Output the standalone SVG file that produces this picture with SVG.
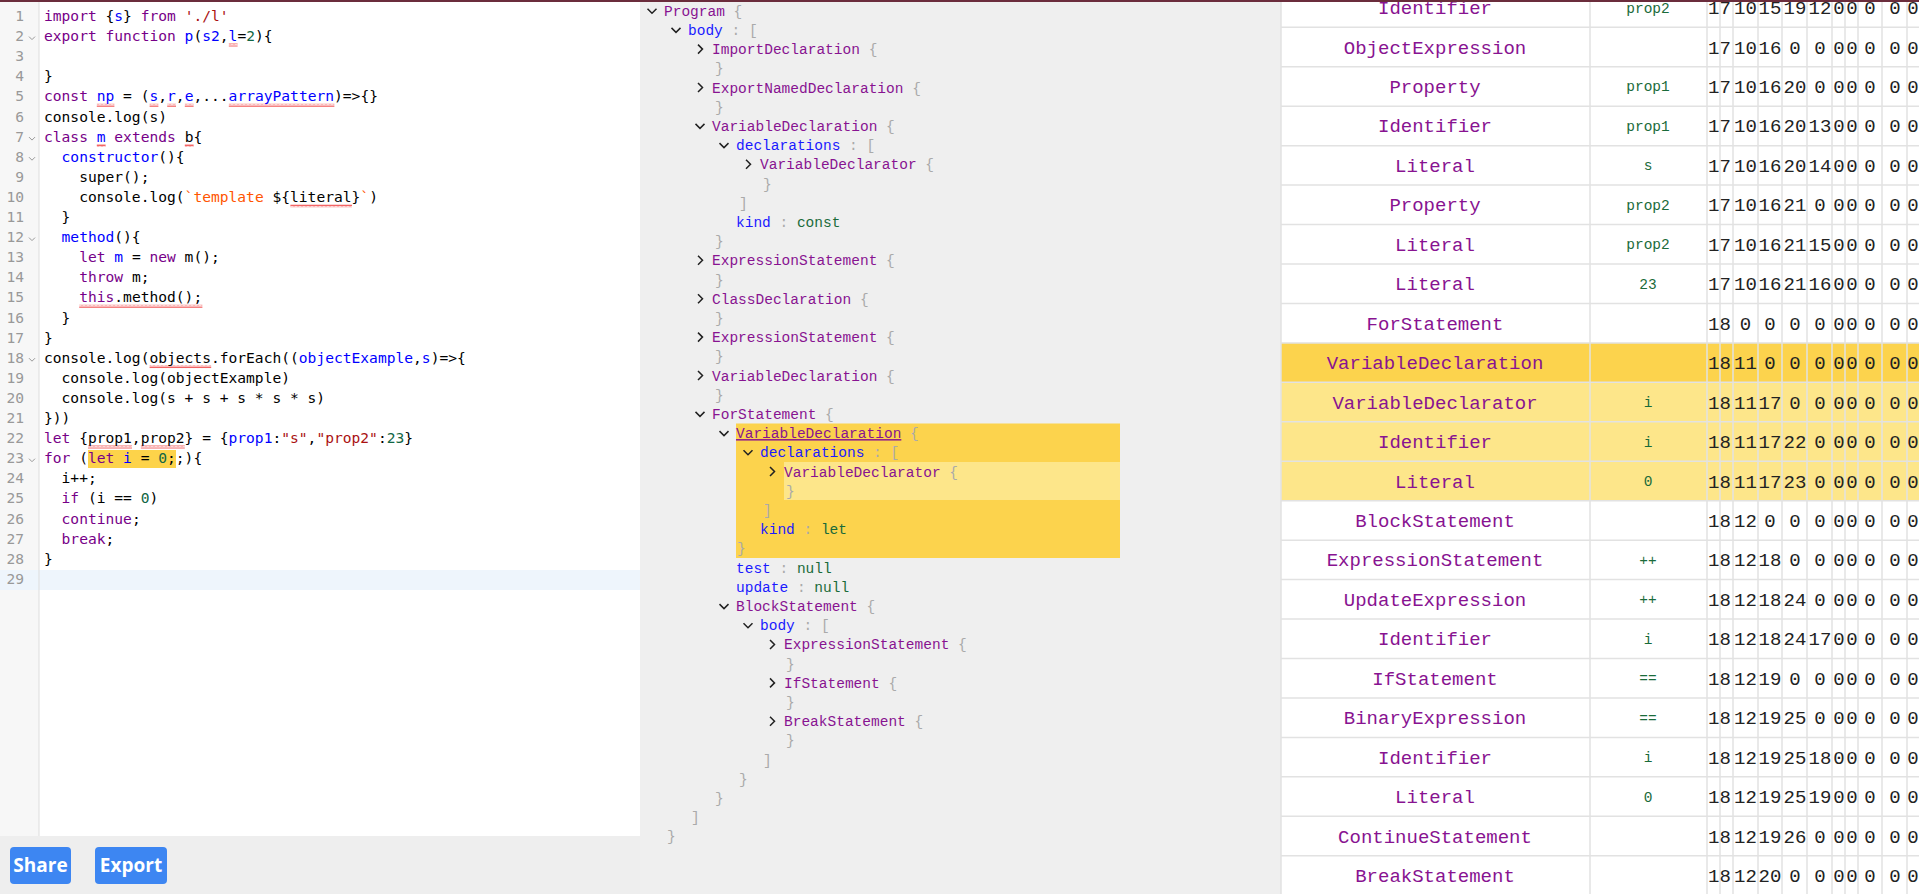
<svg xmlns="http://www.w3.org/2000/svg" width="1919" height="894" viewBox="0 0 1919 894">
<style>
.code{font-family:"DejaVu Sans Mono",monospace;font-size:14.6px;fill:#000;white-space:pre}
.ln{font-family:"DejaVu Sans Mono",monospace;font-size:14.6px;fill:#999;text-anchor:end}
.k{fill:#770088}.d{fill:#0000ff}.s{fill:#aa1111}.n{fill:#116644}.s2{fill:#ff5500}
.tr{font-family:"Liberation Mono",monospace;font-size:14.5px;white-space:pre}
.ty{fill:#881391}.key{fill:#1a1aff}.val{fill:#1a6b3a}.br{fill:#aaaaaa}
.c1{font-family:"Liberation Mono",monospace;font-size:19px;fill:#881391;text-anchor:middle}
.c2{font-family:"Liberation Mono",monospace;font-size:14.5px;fill:#1a6b3a;text-anchor:middle}
.num{font-family:"Liberation Mono",monospace;font-size:19px;fill:#222;text-anchor:middle}
.btn{fill:#3d86f2}
.bt{font-family:"Open Sans","Noto Sans",sans-serif;font-size:19px;font-weight:bold;fill:#fff;text-anchor:middle}
</style>
<defs>
<pattern id="wave" width="4" height="3" patternUnits="userSpaceOnUse"><path d="M0 2.5 L1 0.5 L2 2.5 L3 0.5 L4 2.5" fill="none" stroke="#ee2222" stroke-width="0.7"/></pattern>
</defs>
<g id="editor">
<rect x="0" y="0" width="640" height="836" fill="#ffffff"/>
<rect x="0" y="0" width="39" height="836" fill="#f7f7f7"/>
<rect x="0" y="570" width="640" height="20" fill="#eef5fc"/>
<line x1="39" y1="0" x2="39" y2="836" stroke="#dddddd" stroke-width="1"/>
<rect x="88" y="450" width="88" height="18" fill="#fdd34a"/>
<g fill="url(#wave)">
<rect x="228.8" y="43.5" width="8.8" height="3"/>
<rect x="96.8" y="103.8" width="17.6" height="3"/><rect x="149.6" y="103.8" width="8.8" height="3"/><rect x="167.2" y="103.8" width="8.8" height="3"/><rect x="184.8" y="103.8" width="8.8" height="3"/><rect x="228.8" y="103.8" width="105.6" height="3"/>
<rect x="96.8" y="144" width="8.8" height="3"/><rect x="184.8" y="144" width="8.8" height="3"/>
<rect x="290.4" y="204.4" width="61.6" height="3"/>
<rect x="79.2" y="304.8" width="123.2" height="3"/>
<rect x="149.6" y="365.1" width="61.6" height="3"/>
<rect x="88" y="445.5" width="44" height="3"/><rect x="140.8" y="445.5" width="44" height="3"/>
</g>
<path d="M29 36.6 L32 39.6 L35 36.6 M29 137.1 L32 140.1 L35 137.1 M29 157.2 L32 160.2 L35 157.2 M29 237.6 L32 240.6 L35 237.6 M29 358.2 L32 361.2 L35 358.2 M29 458.7 L32 461.7 L35 458.7" fill="none" stroke="#999" stroke-width="1"/>
<g>
<text class="ln" x="24" y="21">1</text><text class="ln" x="24" y="41.1">2</text><text class="ln" x="24" y="61.2">3</text><text class="ln" x="24" y="81.3">4</text><text class="ln" x="24" y="101.4">5</text><text class="ln" x="24" y="121.5">6</text><text class="ln" x="24" y="141.6">7</text><text class="ln" x="24" y="161.7">8</text><text class="ln" x="24" y="181.8">9</text><text class="ln" x="24" y="201.9">10</text><text class="ln" x="24" y="222">11</text><text class="ln" x="24" y="242.1">12</text><text class="ln" x="24" y="262.2">13</text><text class="ln" x="24" y="282.3">14</text><text class="ln" x="24" y="302.4">15</text><text class="ln" x="24" y="322.5">16</text><text class="ln" x="24" y="342.6">17</text><text class="ln" x="24" y="362.7">18</text><text class="ln" x="24" y="382.8">19</text><text class="ln" x="24" y="402.9">20</text><text class="ln" x="24" y="423">21</text><text class="ln" x="24" y="443.1">22</text><text class="ln" x="24" y="463.2">23</text><text class="ln" x="24" y="483.3">24</text><text class="ln" x="24" y="503.4">25</text><text class="ln" x="24" y="523.5">26</text><text class="ln" x="24" y="543.6">27</text><text class="ln" x="24" y="563.7">28</text><text class="ln" x="24" y="583.8">29</text>
</g>
<g>
<text class="code" x="44" y="21"><tspan class="k">import</tspan> {<tspan class="d">s</tspan>} <tspan class="k">from</tspan> <tspan class="s">'./l'</tspan></text>
<text class="code" x="44" y="41.1"><tspan class="k">export</tspan> <tspan class="k">function</tspan> <tspan class="d">p</tspan>(<tspan class="d">s2</tspan>,<tspan class="d">l</tspan>=<tspan class="n">2</tspan>){</text>
<text class="code" x="44" y="81.3">}</text>
<text class="code" x="44" y="101.4"><tspan class="k">const</tspan> <tspan class="d">np</tspan> = (<tspan class="d">s</tspan>,<tspan class="d">r</tspan>,<tspan class="d">e</tspan>,...<tspan class="d">arrayPattern</tspan>)=&gt;{}</text>
<text class="code" x="44" y="121.5">console.log(s)</text>
<text class="code" x="44" y="141.6"><tspan class="k">class</tspan> <tspan class="d">m</tspan> <tspan class="k">extends</tspan> b{</text>
<text class="code" x="44" y="161.7">  <tspan class="d">constructor</tspan>(){</text>
<text class="code" x="44" y="181.8">    super();</text>
<text class="code" x="44" y="201.9">    console.log(<tspan class="s2">`template </tspan>${literal}<tspan class="s2">`</tspan>)</text>
<text class="code" x="44" y="222">  }</text>
<text class="code" x="44" y="242.1">  <tspan class="d">method</tspan>(){</text>
<text class="code" x="44" y="262.2">    <tspan class="k">let</tspan> <tspan class="d">m</tspan> = <tspan class="k">new</tspan> m();</text>
<text class="code" x="44" y="282.3">    <tspan class="k">throw</tspan> m;</text>
<text class="code" x="44" y="302.4">    <tspan class="k">this</tspan>.method();</text>
<text class="code" x="44" y="322.5">  }</text>
<text class="code" x="44" y="342.6">}</text>
<text class="code" x="44" y="362.7">console.log(objects.forEach((<tspan class="d">objectExample</tspan>,<tspan class="d">s</tspan>)=&gt;{</text>
<text class="code" x="44" y="382.8">  console.log(objectExample)</text>
<text class="code" x="44" y="402.9">  console.log(s + s + s * s * s)</text>
<text class="code" x="44" y="423">}))</text>
<text class="code" x="44" y="443.1"><tspan class="k">let</tspan> {prop1,prop2} = {<tspan class="d">prop1</tspan>:<tspan class="s">"s"</tspan>,<tspan class="s">"prop2"</tspan>:<tspan class="n">23</tspan>}</text>
<text class="code" x="44" y="463.2"><tspan class="k">for</tspan> (<tspan class="k">let</tspan> <tspan class="d">i</tspan> = <tspan class="n">0</tspan>;;){</text>
<text class="code" x="44" y="483.3">  i++;</text>
<text class="code" x="44" y="503.4">  <tspan class="k">if</tspan> (i == <tspan class="n">0</tspan>)</text>
<text class="code" x="44" y="523.5">  <tspan class="k">continue</tspan>;</text>
<text class="code" x="44" y="543.6">  <tspan class="k">break</tspan>;</text>
<text class="code" x="44" y="563.7">}</text>
</g>
<rect x="0" y="836" width="640" height="58" fill="#eeeeee"/>
</g>
<g id="share-button"><rect class="btn" x="10" y="847" width="61" height="37" rx="4"/><text class="bt" x="40.5" y="872">Share</text></g>
<g id="export-button"><rect class="btn" x="95" y="847" width="72" height="37" rx="4"/><text class="bt" x="131" y="872">Export</text></g>
<g id="ast-tree">
<rect x="640" y="0" width="641" height="894" fill="#efefef"/>
<rect x="736" y="423.5" width="384" height="134.5" fill="#fcd34d"/>
<rect x="784" y="462" width="336" height="38" fill="#fde68a"/>
<path d="M647.5 8.7 L652 13.2 L656.5 8.7 M671.5 27.9 L676 32.4 L680.5 27.9 M698 44.6 L702.5 49.1 L698 53.6 M698 83 L702.5 87.5 L698 92 M695.5 123.9 L700 128.4 L704.5 123.9 M719.5 143.1 L724 147.6 L728.5 143.1 M746 159.8 L750.5 164.3 L746 168.8 M698 255.8 L702.5 260.3 L698 264.8 M698 294.2 L702.5 298.7 L698 303.2 M698 332.6 L702.5 337.1 L698 341.6 M698 371 L702.5 375.5 L698 380 M695.5 411.9 L700 416.4 L704.5 411.9 M719.5 431.1 L724 435.6 L728.5 431.1 M743.5 450.3 L748 454.8 L752.5 450.3 M770 467 L774.5 471.5 L770 476 M719.5 604.1 L724 608.6 L728.5 604.1 M743.5 623.3 L748 627.8 L752.5 623.3 M770 640 L774.5 644.5 L770 649 M770 678.4 L774.5 682.9 L770 687.4 M770 716.8 L774.5 721.3 L770 725.8" fill="none" stroke="#222" stroke-width="1.5"/>
<text class="tr" x="664" y="15.7"><tspan class="ty">Program</tspan><tspan class="br"> {</tspan></text>
<text class="tr" x="688" y="34.9"><tspan class="key">body</tspan><tspan class="br"> : [</tspan></text>
<text class="tr" x="712" y="54.1"><tspan class="ty">ImportDeclaration</tspan><tspan class="br"> {</tspan></text>
<text class="tr br" x="715" y="73.3">}</text>
<text class="tr" x="712" y="92.5"><tspan class="ty">ExportNamedDeclaration</tspan><tspan class="br"> {</tspan></text>
<text class="tr br" x="715" y="111.7">}</text>
<text class="tr" x="712" y="130.9"><tspan class="ty">VariableDeclaration</tspan><tspan class="br"> {</tspan></text>
<text class="tr" x="736" y="150.1"><tspan class="key">declarations</tspan><tspan class="br"> : [</tspan></text>
<text class="tr" x="760" y="169.3"><tspan class="ty">VariableDeclarator</tspan><tspan class="br"> {</tspan></text>
<text class="tr br" x="763" y="188.5">}</text>
<text class="tr br" x="739" y="207.7">]</text>
<text class="tr" x="736" y="226.9"><tspan class="key">kind</tspan><tspan class="br"> : </tspan><tspan class="val">const</tspan></text>
<text class="tr br" x="715" y="246.1">}</text>
<text class="tr" x="712" y="265.3"><tspan class="ty">ExpressionStatement</tspan><tspan class="br"> {</tspan></text>
<text class="tr br" x="715" y="284.5">}</text>
<text class="tr" x="712" y="303.7"><tspan class="ty">ClassDeclaration</tspan><tspan class="br"> {</tspan></text>
<text class="tr br" x="715" y="322.9">}</text>
<text class="tr" x="712" y="342.1"><tspan class="ty">ExpressionStatement</tspan><tspan class="br"> {</tspan></text>
<text class="tr br" x="715" y="361.3">}</text>
<text class="tr" x="712" y="380.5"><tspan class="ty">VariableDeclaration</tspan><tspan class="br"> {</tspan></text>
<text class="tr br" x="715" y="399.7">}</text>
<text class="tr" x="712" y="418.9"><tspan class="ty">ForStatement</tspan><tspan class="br"> {</tspan></text>
<text class="tr" x="736" y="438.1"><tspan class="ty" text-decoration="underline">VariableDeclaration</tspan><tspan class="br"> {</tspan></text>
<text class="tr" x="760" y="457.3"><tspan class="key">declarations</tspan><tspan class="br"> : [</tspan></text>
<text class="tr" x="784" y="476.5"><tspan class="ty">VariableDeclarator</tspan><tspan class="br"> {</tspan></text>
<text class="tr br" x="786" y="495.7">}</text>
<text class="tr br" x="763" y="514.9">]</text>
<text class="tr" x="760" y="534.1"><tspan class="key">kind</tspan><tspan class="br"> : </tspan><tspan class="val">let</tspan></text>
<text class="tr br" x="737" y="553.3">}</text>
<text class="tr" x="736" y="572.5"><tspan class="key">test</tspan><tspan class="br"> : </tspan><tspan class="val">null</tspan></text>
<text class="tr" x="736" y="591.7"><tspan class="key">update</tspan><tspan class="br"> : </tspan><tspan class="val">null</tspan></text>
<text class="tr" x="736" y="610.9"><tspan class="ty">BlockStatement</tspan><tspan class="br"> {</tspan></text>
<text class="tr" x="760" y="630.1"><tspan class="key">body</tspan><tspan class="br"> : [</tspan></text>
<text class="tr" x="784" y="649.3"><tspan class="ty">ExpressionStatement</tspan><tspan class="br"> {</tspan></text>
<text class="tr br" x="786" y="668.5">}</text>
<text class="tr" x="784" y="687.7"><tspan class="ty">IfStatement</tspan><tspan class="br"> {</tspan></text>
<text class="tr br" x="786" y="706.9">}</text>
<text class="tr" x="784" y="726.1"><tspan class="ty">BreakStatement</tspan><tspan class="br"> {</tspan></text>
<text class="tr br" x="786" y="745.3">}</text>
<text class="tr br" x="763" y="764.5">]</text>
<text class="tr br" x="739" y="783.7">}</text>
<text class="tr br" x="715" y="802.9">}</text>
<text class="tr br" x="691" y="822.1">]</text>
<text class="tr br" x="667" y="841.3">}</text>
</g>
<g id="table">
<rect x="1281" y="0" width="638" height="894" fill="#ffffff"/>
<rect x="1281" y="342.9" width="638" height="39.45" fill="#fcd34d"/>
<rect x="1281" y="382.35" width="638" height="118.35" fill="#fde68a"/>
<g stroke="#e2e2e2" stroke-width="1.5">
<line x1="1281" y1="0" x2="1281" y2="894"/><line x1="1590" y1="0" x2="1590" y2="894"/><line x1="1707" y1="0" x2="1707" y2="894"/><line x1="1720" y1="0" x2="1720" y2="894"/><line x1="1733" y1="0" x2="1733" y2="894"/><line x1="1758" y1="0" x2="1758" y2="894"/><line x1="1782" y1="0" x2="1782" y2="894"/><line x1="1807" y1="0" x2="1807" y2="894"/><line x1="1832" y1="0" x2="1832" y2="894"/><line x1="1845" y1="0" x2="1845" y2="894"/><line x1="1858" y1="0" x2="1858" y2="894"/><line x1="1882" y1="0" x2="1882" y2="894"/><line x1="1907" y1="0" x2="1907" y2="894"/>
<line x1="1281" y1="27.3" x2="1919" y2="27.3"/><line x1="1281" y1="66.75" x2="1919" y2="66.75"/><line x1="1281" y1="106.2" x2="1919" y2="106.2"/><line x1="1281" y1="145.65" x2="1919" y2="145.65"/><line x1="1281" y1="185.1" x2="1919" y2="185.1"/><line x1="1281" y1="224.55" x2="1919" y2="224.55"/><line x1="1281" y1="264" x2="1919" y2="264"/><line x1="1281" y1="303.45" x2="1919" y2="303.45"/><line x1="1281" y1="342.9" x2="1919" y2="342.9"/><line x1="1281" y1="382.35" x2="1919" y2="382.35"/><line x1="1281" y1="421.8" x2="1919" y2="421.8"/><line x1="1281" y1="461.25" x2="1919" y2="461.25"/><line x1="1281" y1="500.7" x2="1919" y2="500.7"/><line x1="1281" y1="540.15" x2="1919" y2="540.15"/><line x1="1281" y1="579.6" x2="1919" y2="579.6"/><line x1="1281" y1="619.05" x2="1919" y2="619.05"/><line x1="1281" y1="658.5" x2="1919" y2="658.5"/><line x1="1281" y1="697.95" x2="1919" y2="697.95"/><line x1="1281" y1="737.4" x2="1919" y2="737.4"/><line x1="1281" y1="776.85" x2="1919" y2="776.85"/><line x1="1281" y1="816.3" x2="1919" y2="816.3"/><line x1="1281" y1="855.75" x2="1919" y2="855.75"/>
</g>
<g id="row-0"><text class="c1" x="1435" y="14.2">Identifier</text><text class="c2" x="1648" y="12.7">prop2</text><text class="num" x="1713.7 1725.1 1739.8 1751.2 1764.3 1775.7 1789.3 1800.7 1814.3 1825.7 1839 1852 1870 1895 1913" y="14.2">171015191200000</text></g>
<g id="row-1"><text class="c1" x="1435" y="53.5">ObjectExpression</text><text class="num" x="1713.7 1725.1 1739.8 1751.2 1764.3 1775.7 1795 1820 1839 1852 1870 1895 1913" y="53.5">1710160000000</text></g>
<g id="row-2"><text class="c1" x="1435" y="92.9">Property</text><text class="c2" x="1648" y="91.4">prop1</text><text class="num" x="1713.7 1725.1 1739.8 1751.2 1764.3 1775.7 1789.3 1800.7 1820 1839 1852 1870 1895 1913" y="92.9">17101620000000</text></g>
<g id="row-3"><text class="c1" x="1435" y="132.4">Identifier</text><text class="c2" x="1648" y="130.9">prop1</text><text class="num" x="1713.7 1725.1 1739.8 1751.2 1764.3 1775.7 1789.3 1800.7 1814.3 1825.7 1839 1852 1870 1895 1913" y="132.4">171016201300000</text></g>
<g id="row-4"><text class="c1" x="1435" y="171.9">Literal</text><text class="c2" x="1648" y="170.4">s</text><text class="num" x="1713.7 1725.1 1739.8 1751.2 1764.3 1775.7 1789.3 1800.7 1814.3 1825.7 1839 1852 1870 1895 1913" y="171.9">171016201400000</text></g>
<g id="row-5"><text class="c1" x="1435" y="211.3">Property</text><text class="c2" x="1648" y="209.8">prop2</text><text class="num" x="1713.7 1725.1 1739.8 1751.2 1764.3 1775.7 1789.3 1800.7 1820 1839 1852 1870 1895 1913" y="211.3">17101621000000</text></g>
<g id="row-6"><text class="c1" x="1435" y="250.8">Literal</text><text class="c2" x="1648" y="249.3">prop2</text><text class="num" x="1713.7 1725.1 1739.8 1751.2 1764.3 1775.7 1789.3 1800.7 1814.3 1825.7 1839 1852 1870 1895 1913" y="250.8">171016211500000</text></g>
<g id="row-7"><text class="c1" x="1435" y="290.2">Literal</text><text class="c2" x="1648" y="288.7">23</text><text class="num" x="1713.7 1725.1 1739.8 1751.2 1764.3 1775.7 1789.3 1800.7 1814.3 1825.7 1839 1852 1870 1895 1913" y="290.2">171016211600000</text></g>
<g id="row-8"><text class="c1" x="1435" y="329.7">ForStatement</text><text class="num" x="1713.7 1725.1 1745.5 1770 1795 1820 1839 1852 1870 1895 1913" y="329.7">18000000000</text></g>
<g id="row-9"><text class="c1" x="1435" y="369.1">VariableDeclaration</text><text class="num" x="1713.7 1725.1 1739.8 1751.2 1770 1795 1820 1839 1852 1870 1895 1913" y="369.1">181100000000</text></g>
<g id="row-10"><text class="c1" x="1435" y="408.6">VariableDeclarator</text><text class="c2" x="1648" y="407.1">i</text><text class="num" x="1713.7 1725.1 1739.8 1751.2 1764.3 1775.7 1795 1820 1839 1852 1870 1895 1913" y="408.6">1811170000000</text></g>
<g id="row-11"><text class="c1" x="1435" y="448">Identifier</text><text class="c2" x="1648" y="446.5">i</text><text class="num" x="1713.7 1725.1 1739.8 1751.2 1764.3 1775.7 1789.3 1800.7 1820 1839 1852 1870 1895 1913" y="448">18111722000000</text></g>
<g id="row-12"><text class="c1" x="1435" y="487.5">Literal</text><text class="c2" x="1648" y="486">0</text><text class="num" x="1713.7 1725.1 1739.8 1751.2 1764.3 1775.7 1789.3 1800.7 1820 1839 1852 1870 1895 1913" y="487.5">18111723000000</text></g>
<g id="row-13"><text class="c1" x="1435" y="526.9">BlockStatement</text><text class="num" x="1713.7 1725.1 1739.8 1751.2 1770 1795 1820 1839 1852 1870 1895 1913" y="526.9">181200000000</text></g>
<g id="row-14"><text class="c1" x="1435" y="566.4">ExpressionStatement</text><text class="c2" x="1648" y="564.9">++</text><text class="num" x="1713.7 1725.1 1739.8 1751.2 1764.3 1775.7 1795 1820 1839 1852 1870 1895 1913" y="566.4">1812180000000</text></g>
<g id="row-15"><text class="c1" x="1435" y="605.8">UpdateExpression</text><text class="c2" x="1648" y="604.3">++</text><text class="num" x="1713.7 1725.1 1739.8 1751.2 1764.3 1775.7 1789.3 1800.7 1820 1839 1852 1870 1895 1913" y="605.8">18121824000000</text></g>
<g id="row-16"><text class="c1" x="1435" y="645.3">Identifier</text><text class="c2" x="1648" y="643.8">i</text><text class="num" x="1713.7 1725.1 1739.8 1751.2 1764.3 1775.7 1789.3 1800.7 1814.3 1825.7 1839 1852 1870 1895 1913" y="645.3">181218241700000</text></g>
<g id="row-17"><text class="c1" x="1435" y="684.7">IfStatement</text><text class="c2" x="1648" y="683.2">==</text><text class="num" x="1713.7 1725.1 1739.8 1751.2 1764.3 1775.7 1795 1820 1839 1852 1870 1895 1913" y="684.7">1812190000000</text></g>
<g id="row-18"><text class="c1" x="1435" y="724.2">BinaryExpression</text><text class="c2" x="1648" y="722.7">==</text><text class="num" x="1713.7 1725.1 1739.8 1751.2 1764.3 1775.7 1789.3 1800.7 1820 1839 1852 1870 1895 1913" y="724.2">18121925000000</text></g>
<g id="row-19"><text class="c1" x="1435" y="763.6">Identifier</text><text class="c2" x="1648" y="762.1">i</text><text class="num" x="1713.7 1725.1 1739.8 1751.2 1764.3 1775.7 1789.3 1800.7 1814.3 1825.7 1839 1852 1870 1895 1913" y="763.6">181219251800000</text></g>
<g id="row-20"><text class="c1" x="1435" y="803.1">Literal</text><text class="c2" x="1648" y="801.6">0</text><text class="num" x="1713.7 1725.1 1739.8 1751.2 1764.3 1775.7 1789.3 1800.7 1814.3 1825.7 1839 1852 1870 1895 1913" y="803.1">181219251900000</text></g>
<g id="row-21"><text class="c1" x="1435" y="842.5">ContinueStatement</text><text class="num" x="1713.7 1725.1 1739.8 1751.2 1764.3 1775.7 1789.3 1800.7 1820 1839 1852 1870 1895 1913" y="842.5">18121926000000</text></g>
<g id="row-22"><text class="c1" x="1435" y="882">BreakStatement</text><text class="num" x="1713.7 1725.1 1739.8 1751.2 1764.3 1775.7 1795 1820 1839 1852 1870 1895 1913" y="882">1812200000000</text></g>
</g>
<rect x="0" y="0" width="1919" height="2" fill="#6b2d3c"/>
</svg>
